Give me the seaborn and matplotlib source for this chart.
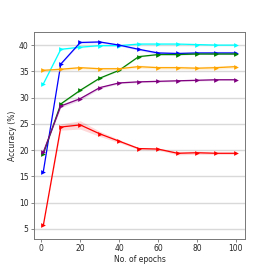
import matplotlib
matplotlib.use("Agg")
import matplotlib.pyplot as plt
import seaborn as sns
import numpy as np
import pandas as pd

epochs = [1, 10, 20, 30, 40, 50, 60, 70, 80, 90, 100]

cyan_vals = [32.6, 39.2, 39.6, 39.9, 39.9, 40.2, 40.2, 40.2, 40.1, 40.0, 40.0]
blue_vals = [15.9, 36.4, 40.5, 40.6, 40.0, 39.2, 38.5, 38.4, 38.5, 38.5, 38.5]
green_vals = [19.3, 28.8, 31.4, 33.7, 35.2, 37.8, 38.2, 38.2, 38.3, 38.3, 38.3]
purple_vals = [19.6, 28.4, 29.8, 31.9, 32.8, 33.0, 33.1, 33.2, 33.3, 33.4, 33.4]
orange_vals = [35.2, 35.4, 35.7, 35.5, 35.5, 35.9, 35.7, 35.7, 35.6, 35.7, 35.9]
red_vals = [5.65, 24.4, 24.8, 23.1, 21.7, 20.3, 20.2, 19.4, 19.5, 19.4, 19.4]

cyan_err = [0.1, 0.15, 0.15, 0.1, 0.1, 0.1, 0.1, 0.1, 0.1, 0.1, 0.1]
blue_err = [0.1, 0.15, 0.15, 0.15, 0.15, 0.2, 0.25, 0.25, 0.25, 0.3, 0.3]
green_err = [0.15, 0.15, 0.15, 0.1, 0.1, 0.1, 0.1, 0.1, 0.1, 0.1, 0.1]
purple_err = [0.2, 0.3, 0.3, 0.2, 0.15, 0.15, 0.15, 0.15, 0.15, 0.15, 0.15]
orange_err = [0.2, 0.25, 0.25, 0.25, 0.25, 0.3, 0.3, 0.3, 0.3, 0.35, 0.3]
red_err = [0.1, 0.6, 0.8, 0.5, 0.3, 0.2, 0.2, 0.3, 0.3, 0.2, 0.2]

series = [
    ("cyan", cyan_vals, cyan_err),
    ("blue", blue_vals, blue_err),
    ("green", green_vals, green_err),
    ("purple", purple_vals, purple_err),
    ("orange", orange_vals, orange_err),
    ("red", red_vals, red_err),
]

sns.set_style("white")
plt.rcParams['font.family'] = ['DejaVu Sans']

fig = plt.figure(figsize=(2.73, 2.73), dpi=100)
ax = fig.add_axes([0.123, 0.125, 0.776, 0.756])

for color, vals, err in series:
    df = pd.DataFrame({"epoch": epochs, "acc": vals})
    v = np.array(vals)
    e = np.array(err)
    ax.fill_between(epochs, v - e, v + e, color=color, alpha=0.15, linewidth=0)
    sns.lineplot(data=df, x="epoch", y="acc", color=color, marker=">",
                 markersize=3.4, markeredgewidth=0, linewidth=0.9, ax=ax)

ax.set_xlim(-4, 104.9)
ax.set_ylim(3.1, 42.4)
ax.set_xlabel("No. of epochs", fontsize=5.5, labelpad=1.5)
ax.set_ylabel("Accuracy (%)", fontsize=5.5, labelpad=1.5)
ax.set_xticks([0, 20, 40, 60, 80, 100])
ax.set_yticks([5, 10, 15, 20, 25, 30, 35, 40])
ax.tick_params(axis="both", labelsize=5.5, length=2, width=0.5, color="#555555",
               pad=1.5, bottom=True, left=True)
ax.yaxis.grid(True, color="#d9d9d9", linewidth=1.0)
ax.xaxis.grid(False)
ax.set_axisbelow(True)
for s in ax.spines.values():
    s.set_color("#777777")
    s.set_linewidth(0.7)

fig.savefig("out.png", dpi=100)
